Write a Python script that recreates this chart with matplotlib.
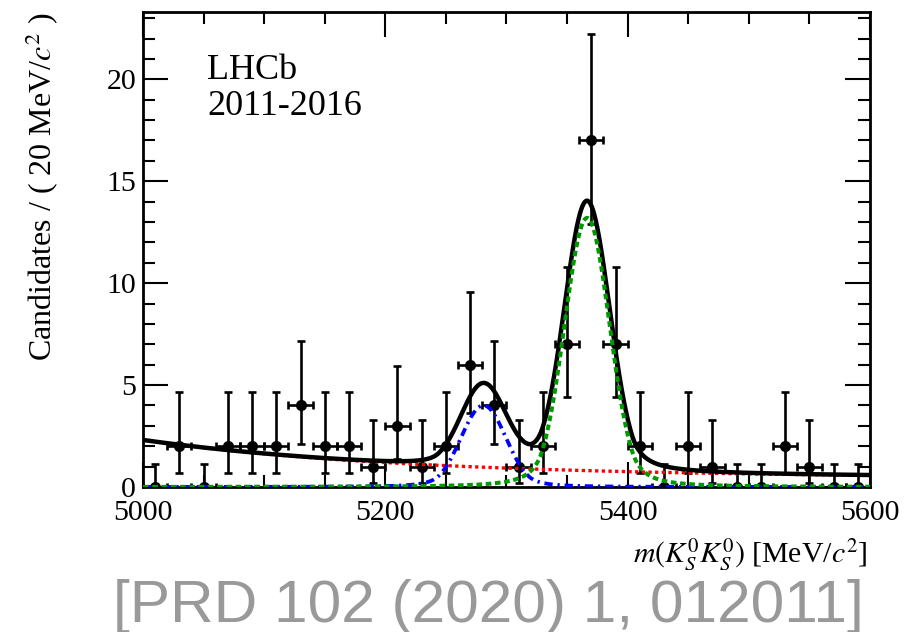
import math
import numpy as np
import matplotlib
matplotlib.use("Agg")
import matplotlib.pyplot as plt
from matplotlib.ticker import MultipleLocator

# ---- binned data: m(KsKs), 20 MeV bins ----
bin_centers = [5010, 5030, 5050, 5070, 5090, 5110, 5130, 5150, 5170, 5190,
               5210, 5230, 5250, 5270, 5290, 5310, 5330, 5350, 5370, 5390,
               5410, 5430, 5450, 5470, 5490, 5510, 5530, 5550, 5570, 5590]
counts = [0, 2, 0, 2, 2, 2, 4, 2, 2, 1,
          3, 1, 2, 6, 4, 1, 2, 7, 17, 7,
          2, 0, 2, 1, 0, 0, 2, 1, 0, 0]
bin_width = 20.0

# ---- fit model parameters ----
bkg_amp, bkg_slope, bkg_const = 1.85, 0.00452, 0.45      # exp + const
bd_mean, bd_sigma, bd_peak = 5281.0, 18.5, 4.0           # B0 -> KsKs
bs_mean, bs_sigma, bs_peak = 5366.5, 18.5, 13.2          # Bs -> KsKs
cb_alpha, cb_n = 2.0, 2.0

plt.rcParams["font.family"] = ["Liberation Serif", "DejaVu Serif"]
plt.rcParams["mathtext.fontset"] = "stix"


def poisson_cdf(n, mu):
    term, s = math.exp(-mu), 0.0
    for k in range(n + 1):
        if k > 0:
            term *= mu / k
        s += term
    return s


def solve(f, lo, hi):
    for _ in range(100):
        mid = 0.5 * (lo + hi)
        if f(mid) > 0:
            lo = mid
        else:
            hi = mid
    return 0.5 * (lo + hi)


def poisson_interval(n, cl=0.682689):
    a = 0.5 * (1 - cl)
    if n == 0:
        return 0.0, -math.log(1 - cl)
    lo = solve(lambda mu: a - (1 - poisson_cdf(n - 1, mu)), 0.0, n + 1.0)
    hi = solve(lambda mu: poisson_cdf(n, mu) - a, n, n + 10 * math.sqrt(n) + 10)
    return lo, hi


def double_cb(x, mean, sigma, alpha, n):
    t = np.abs((x - mean) / sigma)
    A = (n / alpha) ** n * np.exp(-0.5 * alpha ** 2)
    B = n / alpha - alpha
    core = np.exp(-0.5 * t ** 2)
    tail = A * np.power(np.maximum(B + t, 1e-9), -n)
    return np.where(t < alpha, core, tail)


x = np.array(bin_centers, float)
y = np.array(counts, float)
intervals = [poisson_interval(int(c)) for c in counts]
yerr_lo = np.array([c - lo for c, (lo, hi) in zip(counts, intervals)])
yerr_hi = np.array([hi - c for c, (lo, hi) in zip(counts, intervals)])

m = np.linspace(5000, 5600, 1501)
bkg = bkg_const + bkg_amp * np.exp(-bkg_slope * (m - 5000))
bd = bd_peak * double_cb(m, bd_mean, bd_sigma, cb_alpha, cb_n)
bs = bs_peak * double_cb(m, bs_mean, bs_sigma, cb_alpha, cb_n)
total = bkg + bd + bs

W, H = 924, 632
fig = plt.figure(figsize=(W / 100, H / 100), dpi=100)
ax = fig.add_axes([143 / W, 1 - 487 / H, (870 - 143) / W, (487 - 12) / H])

ax.errorbar(x, y, xerr=bin_width / 2, yerr=[yerr_lo, yerr_hi], fmt="o",
            color="black", ms=7, elinewidth=1.9, capsize=3, capthick=1.9,
            zorder=2, clip_on=True)
ax.plot(m, bkg, color="#ff0000", lw=2.4, ls=(0, (1, 1)), zorder=3)
ax.plot(m, total, color="black", lw=3.2, zorder=4)
ax.plot(m, bd, color="#0000ff", lw=2.7, ls=(0, (2.2, 1.3, 0.6, 1.3)), zorder=5)
ax.plot(m, bs, color="#009900", lw=2.9, ls=(0, (1.4, 0.9)), zorder=6)

ax.set_xlim(5000, 5600)
ax.set_ylim(0, 23.3)
ax.xaxis.set_major_locator(MultipleLocator(200))
ax.xaxis.set_minor_locator(MultipleLocator(50))
ax.yaxis.set_major_locator(MultipleLocator(5))
ax.yaxis.set_minor_locator(MultipleLocator(1))
ax.tick_params(which="both", direction="in", top=True, right=True, width=1.5,
               labelsize=21.5)
ax.tick_params(which="major", length=18)
ax.tick_params(which="minor", length=8.5)
ax.tick_params(axis="x", pad=9)
ax.tick_params(axis="y", pad=5)
for s in ax.spines.values():
    s.set_linewidth(2.0)

fig.text(42 / W, 1 - 13 / H, r"Candidates / ( 20 MeV/$c^2$ )", rotation=90,
         ha="center", va="top", fontsize=23)
fig.text(868 / W, 1 - 562 / H, r"$m(K^0_S K^0_S)$ [MeV/$c^2$]", ha="right",
         va="baseline", fontsize=21.5)
fig.text(207 / W, 1 - 79 / H, "LHCb", ha="left", va="baseline", fontsize=26)
fig.text(207 / W, 1 - 115 / H, "2011-2016", ha="left", va="baseline", fontsize=26)
fig.text(113 / W, 1 - 622 / H, "[PRD 102 (2020) 1, 012011]", ha="left",
         va="baseline", fontsize=43.5, color="#999999",
         family=["Liberation Sans", "DejaVu Sans"])

fig.savefig("out.png", dpi=100)
